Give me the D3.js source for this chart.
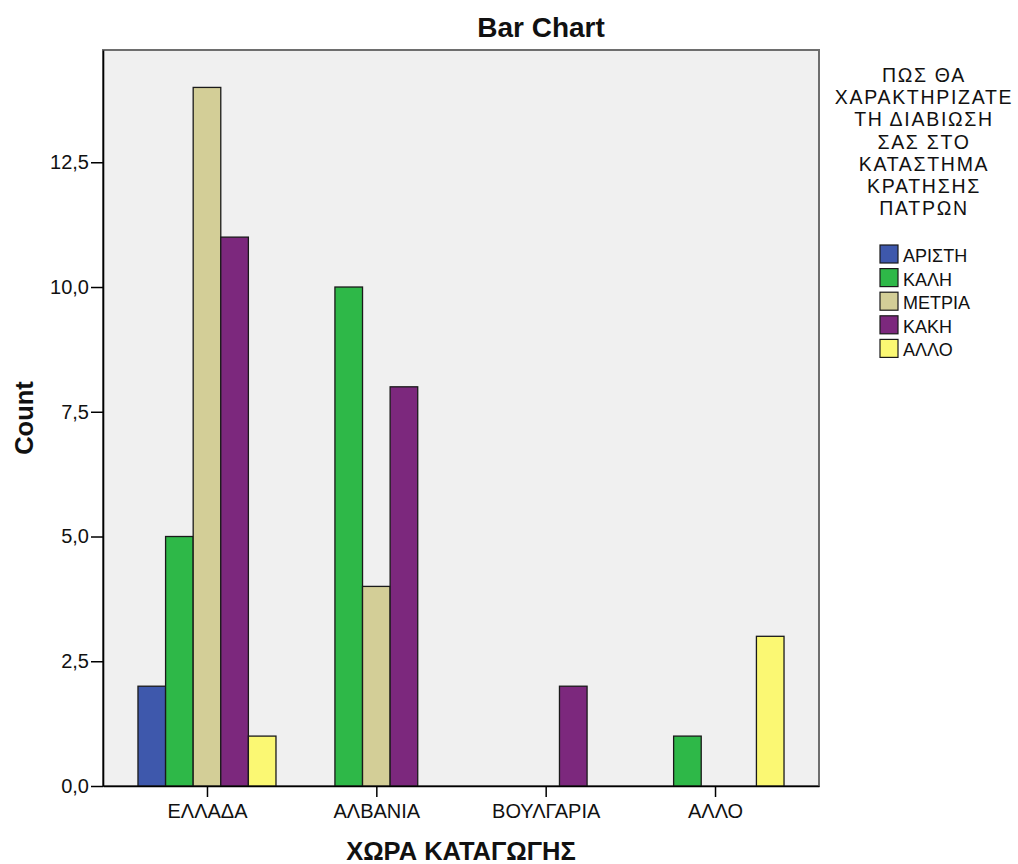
<!DOCTYPE html>
<html>
<head>
<meta charset="utf-8">
<script src="https://cdn.jsdelivr.net/npm/d3@7"></script>
<style>
  html, body { margin: 0; padding: 0; background: #ffffff; }
  svg { display: block; font-family: "Liberation Sans", Arial, sans-serif; }
</style>
</head>
<body>
<svg id="chart" width="1018" height="864"></svg>
<script>
// ---- data ----
const categories = ["ΕΛΛΑΔΑ", "ΑΛΒΑΝΙΑ", "ΒΟΥΛΓΑΡΙΑ", "ΑΛΛΟ"];
const seriesNames = ["ΑΡΙΣΤΗ", "ΚΑΛΗ", "ΜΕΤΡΙΑ", "ΚΑΚΗ", "ΑΛΛΟ"];
const seriesColors = ["#3e58ac", "#2eb848", "#d3ce97", "#7c287d", "#fbf873"];
const valuesΑΡΙΣΤΗ = [2, 0, 0, 0];
const valuesΚΑΛΗ   = [5, 10, 0, 1];
const valuesΜΕΤΡΙΑ = [14, 4, 0, 0];
const valuesΚΑΚΗ   = [11, 8, 2, 0];
const valuesΑΛΛΟ   = [1, 0, 0, 3];
const seriesValues = [valuesΑΡΙΣΤΗ, valuesΚΑΛΗ, valuesΜΕΤΡΙΑ, valuesΚΑΚΗ, valuesΑΛΛΟ];
const yTicks = [0, 2.5, 5, 7.5, 10, 12.5];
const legendTitleLines = ["ΠΩΣ ΘΑ", "ΧΑΡΑΚΤΗΡΙΖΑΤΕ", "ΤΗ ΔΙΑΒΙΩΣΗ", "ΣΑΣ ΣΤΟ", "ΚΑΤΑΣΤΗΜΑ", "ΚΡΑΤΗΣΗΣ", "ΠΑΤΡΩΝ"];
const chartTitle = "Bar Chart";
const xTitle = "ΧΩΡΑ ΚΑΤΑΓΩΓΗΣ";
const yTitle = "Count";

// ---- layout ----
const plot = { left: 103, right: 819, top: 50, bottom: 786 };
const barW = 27.6;

const svg = d3.select("#chart");
const locale = d3.formatLocale({ decimal: ",", thousands: ".", grouping: [3], currency: ["", "€"] });
const fmt = locale.format(".1f");

const x = d3.scalePoint().domain(categories).range([plot.left, plot.right]).padding(0.614);
const xs = d3.scaleBand().domain(seriesNames).range([-2.5 * barW, 2.5 * barW]).padding(0);
const y = d3.scaleLinear().domain([0, 14.75]).range([plot.bottom, plot.top]);

// plot background
svg.append("rect")
  .attr("x", plot.left).attr("y", plot.top)
  .attr("width", plot.right - plot.left).attr("height", plot.bottom - plot.top)
  .attr("fill", "#f0f0f0").attr("stroke", "#6e6e6e").attr("stroke-width", 2);

// bars
const rows = [];
categories.forEach((c, ci) => {
  seriesNames.forEach((s, si) => {
    const v = seriesValues[si][ci];
    if (v > 0) rows.push({ c, s, v, color: seriesColors[si] });
  });
});
svg.append("g").selectAll("rect").data(rows).join("rect")
  .attr("x", d => x(d.c) + xs(d.s))
  .attr("y", d => y(d.v))
  .attr("width", xs.bandwidth())
  .attr("height", d => y(0) - y(d.v))
  .attr("fill", d => d.color)
  .attr("stroke", "#1a1a1a").attr("stroke-width", 1.3);

// y axis
const yAxis = svg.append("g").attr("transform", `translate(${plot.left},0)`)
  .call(d3.axisLeft(y).tickValues(yTicks).tickFormat(fmt).tickSize(12).tickSizeOuter(0).tickPadding(2));
yAxis.select(".domain").attr("stroke", "#000").attr("stroke-width", 1.6);
yAxis.selectAll(".tick line").attr("stroke", "#000").attr("stroke-width", 1.5);
yAxis.selectAll(".tick text").attr("font-size", 20).attr("fill", "#111")
  .attr("font-family", "Liberation Sans, Arial, sans-serif");

// x axis
const xAxis = svg.append("g").attr("transform", `translate(0,${plot.bottom})`)
  .call(d3.axisBottom(x).tickSize(11).tickSizeOuter(0).tickPadding(7));
xAxis.select(".domain").attr("stroke", "#000").attr("stroke-width", 1.6);
xAxis.selectAll(".tick line").attr("stroke", "#000").attr("stroke-width", 1.5);
xAxis.selectAll(".tick text").attr("font-size", 20).attr("fill", "#111")
  .attr("font-family", "Liberation Sans, Arial, sans-serif");

// titles
svg.append("text").attr("x", 541).attr("y", 37).attr("text-anchor", "middle")
  .attr("font-size", 28).attr("font-weight", "bold").attr("fill", "#111").text(chartTitle);
svg.append("text").attr("x", (plot.left + plot.right) / 2).attr("y", 860).attr("text-anchor", "middle")
  .attr("font-size", 25.5).attr("font-weight", "bold").attr("fill", "#111").text(xTitle);
svg.append("text").attr("transform", `translate(33,${(plot.top + plot.bottom) / 2}) rotate(-90)`)
  .attr("text-anchor", "middle")
  .attr("font-size", 25.5).attr("font-weight", "bold").attr("fill", "#111").text(yTitle);

// legend
const lg = svg.append("g");
lg.selectAll("text.lt").data(legendTitleLines).join("text").attr("class", "lt")
  .attr("x", 924).attr("y", (d, i) => 82 + i * 22.2)
  .attr("text-anchor", "middle").attr("font-size", 19.5).attr("letter-spacing", 1.7)
  .attr("fill", "#111").text(d => d);
const items = lg.selectAll("g.item").data(seriesNames).join("g").attr("class", "item")
  .attr("transform", (d, i) => `translate(0,${262 + i * 23.6})`);
items.append("rect").attr("x", 880).attr("y", -17).attr("width", 18).attr("height", 18)
  .attr("fill", (d, i) => seriesColors[i]).attr("stroke", "#1a1a1a").attr("stroke-width", 1.2);
items.append("text").attr("x", 903).attr("y", 0).attr("font-size", 18).attr("fill", "#111").text(d => d);
</script>
</body>
</html>
